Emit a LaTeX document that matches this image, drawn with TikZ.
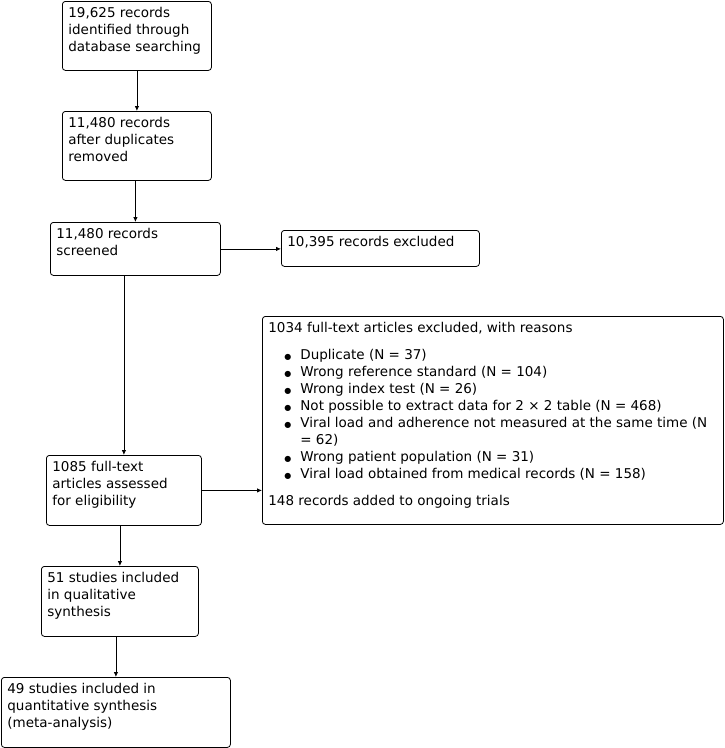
\documentclass[tikz,border=0pt]{standalone}
\usepackage{fontspec}
\setmainfont{DejaVu Sans}
\usetikzlibrary{arrows.meta,calc}

\newcommand{\boxtext}[3]{\parbox[c][#2][t]{#1}{\raggedright #3}}
\newcommand{\bulletmark}{{\fontsize{8}{8}\selectfont ●}}
\newcommand{\reason}[1]{\par\hangindent=32pt\hangafter=1\noindent\hspace*{16pt}\makebox[16pt][l]{\bulletmark}#1}

\tikzset{
  flowbox/.style={draw, rounded corners=3pt, line width=0.8pt, inner sep=6pt,
    anchor=north west, font=\fontsize{13.5}{17}\selectfont},
  flowarrow/.style={-{Latex[length=5pt,width=4.5pt]}, line width=0.8pt}
}

\begin{document}
\begin{tikzpicture}[x=1pt,y=-1pt]
\useasboundingbox (0,0) rectangle (724,748);

\node[flowbox] (ident) at (62,1) {\boxtext{137pt}{57pt}{19,625 records\\ identified through\\ database searching}};
\node[flowbox] (dup) at (62,111) {\boxtext{137pt}{57pt}{11,480 records\\ after duplicates\\ removed}};
\node[flowbox] (screen) at (50,222) {\boxtext{158pt}{41pt}{11,480 records\\ screened}};
\node[flowbox] (excl) at (281,230) {\boxtext{186pt}{24pt}{10,395 records excluded}};
\node[flowbox] (reasons) at (262,316) {\boxtext{449pt}{196pt}{1034 full-text articles excluded, with reasons\par\vspace{10pt}
  \reason{Duplicate (N = 37)}
  \reason{Wrong reference standard (N = 104)}
  \reason{Wrong index test (N = 26)}
  \reason{Not possible to extract data for 2 × 2 table (N = 468)}
  \reason{Viral load and adherence not measured at the same time (N\newline = 62)}
  \reason{Wrong patient population (N = 31)}
  \reason{Viral load obtained from medical records (N = 158)}
  \par\vspace{10pt}\noindent 148 records added to ongoing trials}};
\node[flowbox] (fulltext) at (46,455) {\boxtext{143pt}{58pt}{1085 full-text\\ articles assessed\\ for eligibility}};
\node[flowbox] (quali) at (41,566) {\boxtext{145pt}{58pt}{51 studies included\\ in qualitative\\ synthesis}};
\node[flowbox] (quanti) at (1,677) {\boxtext{217pt}{58pt}{49 studies included in\\ quantitative synthesis\\ (meta-analysis)}};

\draw[flowarrow] (ident.south -| dup.north) -- (dup.north);
\draw[flowarrow] (dup.south -| screen.north) -- (screen.north);
\draw[flowarrow] (screen.east) -- (screen.east -| excl.west);
\draw[flowarrow] (screen.south -| fulltext.north) -- (fulltext.north);
\draw[flowarrow] (fulltext.east) -- (fulltext.east -| reasons.west);
\draw[flowarrow] (fulltext.south -| quali.north) -- (quali.north);
\draw[flowarrow] (quali.south -| quanti.north) -- (quanti.north);

\end{tikzpicture}
\end{document}
